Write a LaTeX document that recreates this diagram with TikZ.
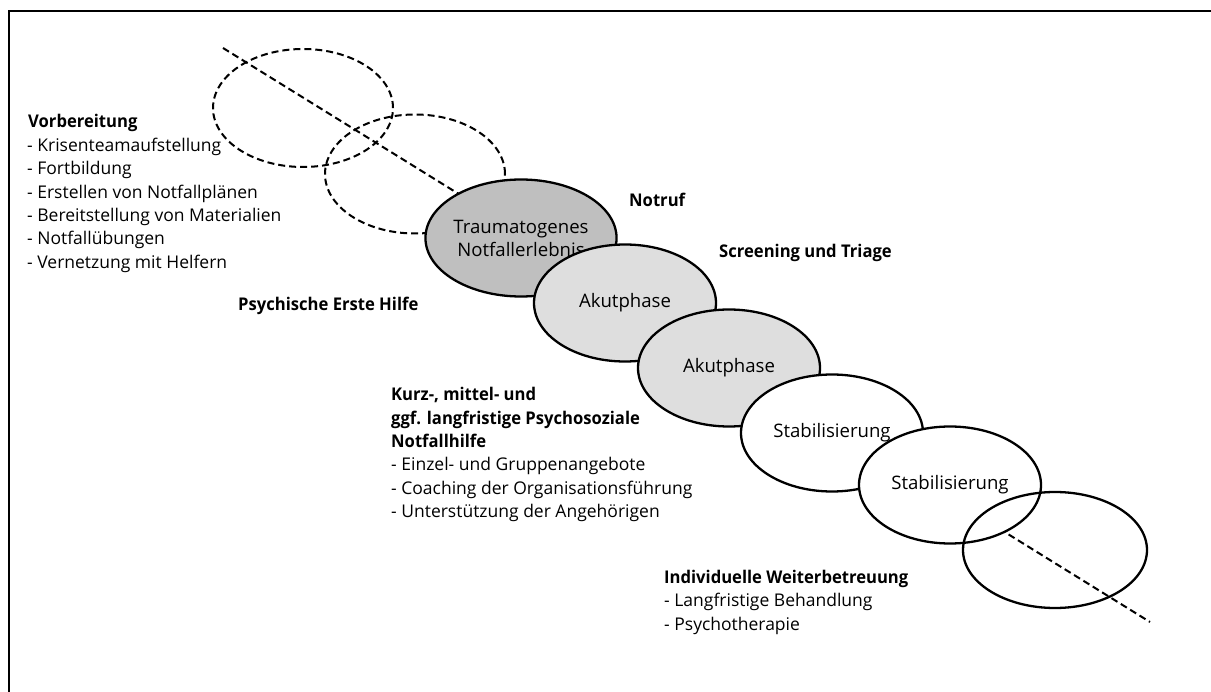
\documentclass[tikz,border=0pt]{standalone}
\usepackage{fontspec}
\setmainfont{Open Sans}[BoldFeatures={FakeStretch=0.95}]
\usetikzlibrary{shapes.geometric}
\definecolor{eventgray}{gray}{0.75}
\definecolor{acutegray}{gray}{0.87}
\begin{document}
\begin{tikzpicture}[x=1pt,y=-1pt,
  phase/.style={ellipse, draw=black, line width=2.3pt, inner sep=0pt,
    minimum width=182pt, minimum height=117pt, align=center,
    font=\fontsize{18.6}{23}\selectfont},
  pending/.style={phase, line width=2pt, dash pattern=on 7pt off 4pt},
  timeline/.style={line width=2pt, dash pattern=on 7pt off 4pt},
  lbl/.style={anchor=base west, inner sep=0pt, font=\fontsize{17.5}{21}\selectfont},
  head/.style={lbl, font=\fontsize{17.5}{21}\selectfont\bfseries},
]
\useasboundingbox (0,0) rectangle (1211,692);

% frame
\draw[line width=2.5pt] (9,692) -- (9,11) -- (1211,11);

% time axis, running behind the phases
\coordinate (tstart) at (223,48);
\coordinate (tend) at (1150,622);
\draw[timeline] (tstart) -- (tend);

% phases, each one drawn over the one before
\node[pending, minimum width=180pt, minimum height=118pt] (prep1) at (303,108) {};
\node[pending, minimum width=180pt, minimum height=119pt] (prep2) at (415,174) {};
\node[phase, fill=eventgray] (event) at (521,238) {Traumatogenes\\Notfallerlebnis};
\node[phase, fill=acutegray] (acute1) at (625,303) {Akutphase};
\node[phase, fill=acutegray] (acute2) at (729,368) {Akutphase};
\node[phase, fill=white] (stab1) at (832,433) {Stabilisierung};
\node[phase, fill=white] (stab2) at (950,485) {Stabilisierung};
\node[phase, minimum width=184pt, minimum height=116pt] (after) at (1055,550) {};

% preparation
\node[head] (vb)  at (28,128) {Vorbereitung};
\node[lbl]  (vb1) at (27,152) {- Krisenteamaufstellung};
\node[lbl]  (vb2) at (27,175) {- Fortbildung};
\node[lbl]  (vb3) at (27,199) {- Erstellen von Notfallplänen};
\node[lbl]  (vb4) at (27,222) {- Bereitstellung von Materialien};
\node[lbl]  (vb5) at (27,245) {- Notfallübungen};
\node[lbl]  (vb6) at (27,269) {- Vernetzung mit Helfern};

% interventions along the axis
\node[head] (peh)    at (238,311) {Psychische Erste Hilfe};
\node[head] (notruf) at (629,207) {Notruf};
\node[head] (triage) at (719,257.5) {Screening und Triage};

% psychosocial emergency care
\node[head] (psnv1) at (391,401)   {Kurz-, mittel- und};
\node[head] (psnv2) at (391,424.3) {ggf. langfristige Psychosoziale};
\node[head] (psnv3) at (391,447.6) {Notfallhilfe};
\node[lbl]  (psnv4) at (391,470.9) {- Einzel- und Gruppenangebote};
\node[lbl]  (psnv5) at (391,494.2) {- Coaching der Organisationsführung};
\node[lbl]  (psnv6) at (391,517.5) {- Unterstützung der Angehörigen};

% follow-up care
\node[head] (iw)  at (664,583)   {Individuelle Weiterbetreuung};
\node[lbl]  (iw1) at (664,606.5) {- Langfristige Behandlung};
\node[lbl]  (iw2) at (664,630)   {- Psychotherapie};
\end{tikzpicture}
\end{document}
